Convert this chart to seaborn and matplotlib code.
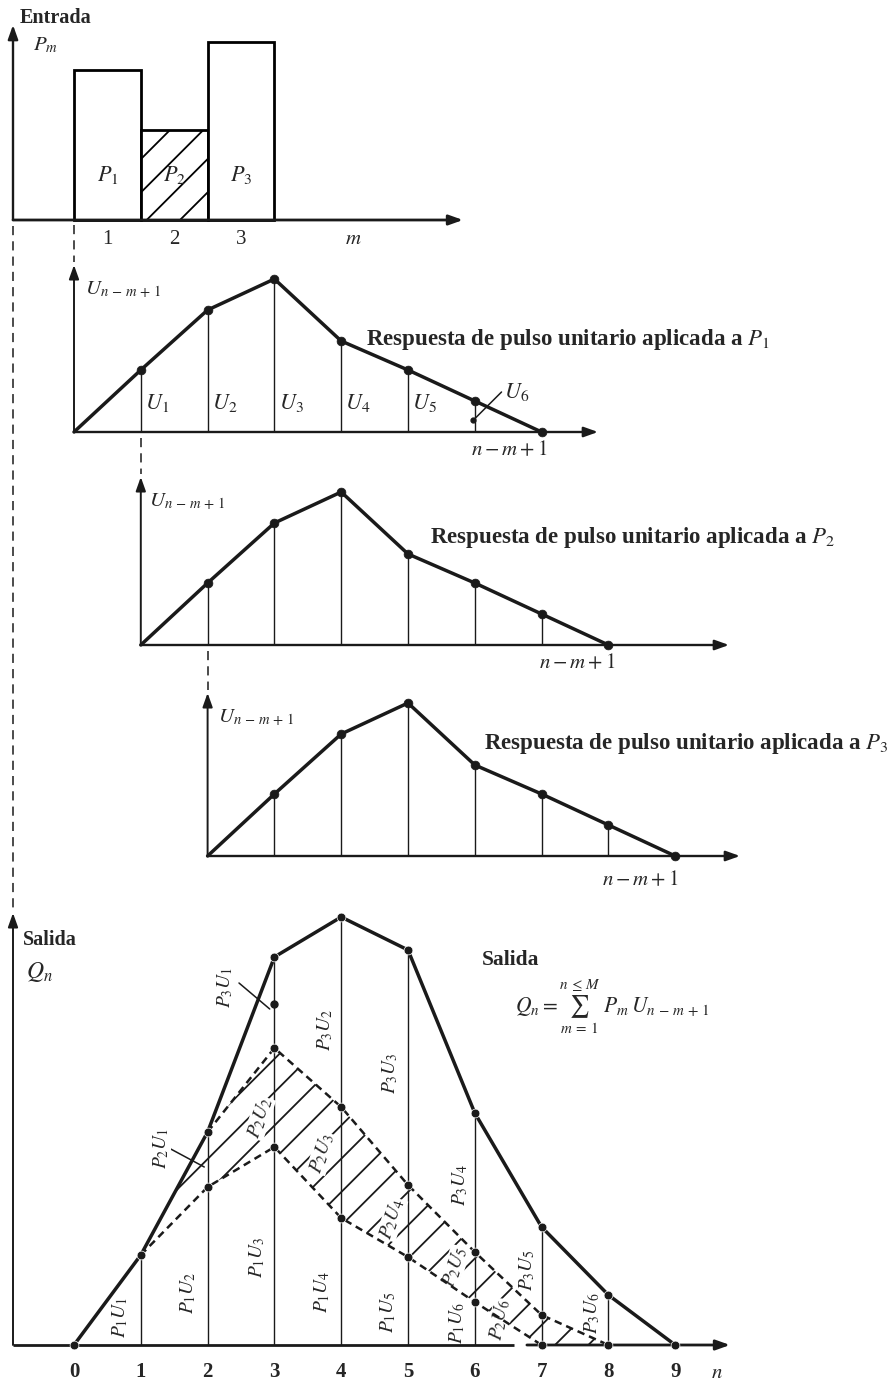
import matplotlib
matplotlib.use("Agg")
import matplotlib.pyplot as plt
import numpy as np
import seaborn as sns

sns.set_theme(style="white")
plt.rcParams["font.family"] = ["Liberation Serif", "DejaVu Serif"]
plt.rcParams["mathtext.fontset"] = "stix"
plt.rcParams["hatch.linewidth"] = 1.3
plt.rcParams["hatch.color"] = "black"

# ---- input pulses P_m ----
pulse_m = [1, 2, 3]
pulse_p = [150, 90, 178]
pulse_labels = ["$P_1$", "$P_2$", "$P_3$"]

# ---- unit pulse response U_k ----
resp_k = [1, 2, 3, 4, 5, 6]
resp_u = [62, 122, 153, 91, 62, 31]
resp_labels = ["$U_1$", "$U_2$", "$U_3$", "$U_4$", "$U_5$", "$U_6$"]

# ---- output components P_m U_(n-m+1) ----
p1u = [90, 158, 198, 127, 88, 43]
p2u = [55, 99, 111, 72, 50, 30]
p3u = [91, 190, 235, 139, 88, 50]
n_out = list(range(10))

# ---- figure geometry ----
W, H, DPI = 888, 1385, 100
X0, DX = 74, 66.8                      # pixel column of n = 0 and pixels per step
XLIM = (-X0 / DX, (W - X0) / DX)
XF = (13 - X0) / DX                    # column of the outer frame axes

fig = plt.figure(figsize=(W / DPI, H / DPI), dpi=DPI)
fig.patch.set_facecolor("white")
limits = []


def panel(top, bottom, base):
    ax = fig.add_axes([0, 1 - bottom / H, 1, (bottom - top) / H])
    ax.patch.set_alpha(0)
    limits.append((ax, base - bottom, base - top))
    return ax


def axis_arrow(ax, x0, y0, x1, y1, lw=1.7):
    ax.annotate("", xy=(x1, y1), xytext=(x0, y0), annotation_clip=False,
                arrowprops=dict(arrowstyle="-|>,head_length=0.7,head_width=0.25",
                                color="k", lw=lw, shrinkA=0, shrinkB=0))


# ================= input hyetograph =================
axT = panel(0, 262, 220)
sns.barplot(x=[m - 0.5 for m in pulse_m], y=pulse_p, native_scale=True, orient="x",
            width=1, color="white", edgecolor="black", linewidth=2.0,
            errorbar=None, ax=axT)
for i, patch in enumerate(axT.patches):
    patch.set_facecolor("white")
    patch.set_edgecolor("black")
    if i == 1:
        patch.set_hatch("/")
axis_arrow(axT, XF, 0, XF, 195)
axis_arrow(axT, XF, 0, (463 - X0) / DX, 0, lw=2.0)
for m, lab in zip(pulse_m, pulse_labels):
    axT.text(m - 0.5, -20, str(m), ha="center", va="center", fontsize=15)
    axT.text(m - 0.5, 45, lab, ha="center", va="center", fontsize=16)
axT.text(4.18, -20, "$m$", ha="center", va="center", fontsize=15)
axT.text(-0.82, 202, "Entrada", ha="left", va="center", fontsize=14.5, fontweight="bold")
axT.text(-0.42, 175, "$P_m$", ha="center", va="center", fontsize=15)


# ================= unit responses =================
def response(top, bottom, base, start, arrow_h, x_end, ulab, txt, nm_pos, k_txt,
             show_u=False):
    ax = panel(top, bottom, base)
    xs = [start] + [start + k for k in resp_k] + [start + 7]
    ys = [0] + resp_u + [0]
    axis_arrow(ax, start, 0, start, arrow_h, lw=1.4)
    axis_arrow(ax, start, 0, x_end, 0, lw=1.7)
    ax.vlines([start + k for k in resp_k], 0, resp_u, color="k", lw=1.0)
    sns.lineplot(x=xs, y=ys, color="k", linewidth=2.5, ax=ax, zorder=4)
    sns.scatterplot(x=xs[1:], y=ys[1:], color="k", s=40, edgecolor="k", ax=ax, zorder=5)
    ax.text(ulab[0], ulab[1], r"$U_{n\,-\,m\,+\,1}$", ha="left", va="center", fontsize=15)
    ax.text(txt[0], txt[1], "Respuesta de pulso unitario aplicada a $P_{%d}$" % k_txt,
            ha="left", va="center", fontsize=16.5, fontweight="bold")
    ax.text(nm_pos[0], nm_pos[1], r"$n - m + 1$", ha="center", va="center", fontsize=15)
    if show_u:
        for k, u, lab in zip(resp_k[:5], resp_u[:5], resp_labels[:5]):
            ax.text(start + k + 0.25, 29, lab, ha="center", va="center", fontsize=16)
        ax.text(start + 6.62, 40, resp_labels[5], ha="center", va="center", fontsize=16)
        ax.plot([start + 6.4, start + 5.98], [40, 12], color="k", lw=1.1)
        ax.plot([start + 5.98], [12], "o", color="k", ms=3.5)
    return ax


response(250, 480, 432, 0, 167, (598 - X0) / DX, (0.17, 142), (4.37, 92), (6.51, -18), 1,
         show_u=True)
response(465, 690, 645, 1, 168, (729 - X0) / DX, (1.13, 143), (5.33, 107), (7.53, -18), 2)
response(680, 905, 856, 2, 163, (740 - X0) / DX, (2.15, 138), (6.14, 113), (8.47, -24), 3)

# ================= output hydrograph =================
axB = panel(895, 1385, 1345)
n_arr = np.array(n_out)
s1 = np.zeros(10)
s1[1:7] += p1u
s2 = s1.copy()
s2[2:8] += p2u
s3 = s2.copy()
s3[3:9] += p3u

axis_arrow(axB, XF, 0, XF, 432, lw=1.4)
axB.plot([XF, 6.58], [0, 0], color="k", lw=2.0, solid_capstyle="butt")
axis_arrow(axB, 6.78, 0, (730 - X0) / DX, 0, lw=2.0)

axB.fill_between(n_arr[1:9], s1[1:9], s2[1:9], facecolor="none", edgecolor="k",
                 hatch="/", linewidth=0)
axB.vlines(n_arr[1:9], 0, s3[1:9], color="k", lw=1.0)
sns.lineplot(x=n_arr[1:8], y=s1[1:8], color="k", linewidth=1.8, linestyle=(0, (3, 2)),
             ax=axB, zorder=4)
sns.lineplot(x=n_arr[2:9], y=s2[2:9], color="k", linewidth=1.8, linestyle=(0, (3, 2)),
             ax=axB, zorder=4)
sns.lineplot(x=n_arr, y=s3, color="k", linewidth=2.5, ax=axB, zorder=4)
sns.scatterplot(x=n_arr, y=s3, color="k", s=40, ax=axB, zorder=5)
sns.scatterplot(x=n_arr[2:8], y=s1[2:8], color="k", s=40, ax=axB, zorder=5)
sns.scatterplot(x=n_arr[3:9], y=s2[3:9], color="k", s=40, ax=axB, zorder=5)

# component labels
comp_labels = [
    ("$P_1U_1$", 0.69, 28, 90), ("$P_1U_2$", 1.71, 52, 90), ("$P_1U_3$", 2.74, 88, 90),
    ("$P_1U_4$", 3.71, 53, 90), ("$P_1U_5$", 4.70, 33, 90), ("$P_1U_6$", 5.73, 22, 90),
    ("$P_2U_1$", 1.30, 197, 90), ("$P_2U_2$", 2.78, 227, 72), ("$P_2U_3$", 3.71, 192, 72),
    ("$P_2U_4$", 4.76, 126, 72), ("$P_2U_5$", 5.70, 78, 72), ("$P_2U_6$", 6.38, 25, 80),
    ("$P_3U_1$", 2.26, 358, 90), ("$P_3U_2$", 3.76, 315, 90), ("$P_3U_3$", 4.73, 272, 90),
    ("$P_3U_4$", 5.78, 160, 90), ("$P_3U_5$", 6.78, 75, 90), ("$P_3U_6$", 7.75, 32, 90),
]
for lab, x, y, rot in comp_labels:
    axB.text(x, y, lab, rotation=rot, ha="center", va="center", fontsize=14,
             bbox=dict(facecolor="white", edgecolor="none", pad=0.3) if lab.startswith("$P_2") else None)
axB.plot([2.47, 2.93], [362, 336], color="k", lw=1.1)
axB.plot([3], [341], "o", color="k", ms=5)
axB.plot([1.42, 1.95], [197, 178], color="k", lw=1.1)

for n in n_out:
    axB.text(n, -27, str(n), ha="center", va="center", fontsize=15, fontweight="bold")
axB.text(9.63, -29, "$n$", ha="center", va="center", fontsize=15)
axB.text(-0.76, 405, "Salida", ha="left", va="center", fontsize=14.5, fontweight="bold")
axB.text(-0.52, 373, "$Q_n$", ha="center", va="center", fontsize=17)
axB.text(6.11, 385, "Salida", ha="left", va="center", fontsize=15.5, fontweight="bold")
axB.text(6.6, 338, r"$Q_n = \sum_{m\,=\,1}^{n\,\leq\,M}\ P_m\,U_{n\,-\,m\,+\,1}$",
         ha="left", va="center", fontsize=15.5)

# ================= dashed guide lines between panels =================
axO = fig.add_axes([0, 0, 1, 1])
axO.patch.set_alpha(0)
axO.set_xlim(*XLIM)
axO.set_ylim(H, 0)
axO.set_axis_off()
guides = [(XF, 226, 908), (0, 225, 262), (1, 438, 474), (2, 651, 690)]
for gx, y0, y1 in guides:
    axO.plot([gx, gx], [y0, y1], color="k", lw=1.1, ls=(0, (6, 4)))

for ax, lo, hi in limits:
    ax.set_xlim(*XLIM)
    ax.set_ylim(lo, hi)
    ax.set_axis_off()
    if ax.get_legend() is not None:
        ax.get_legend().remove()

fig.savefig("out.png", dpi=DPI, facecolor="white")
